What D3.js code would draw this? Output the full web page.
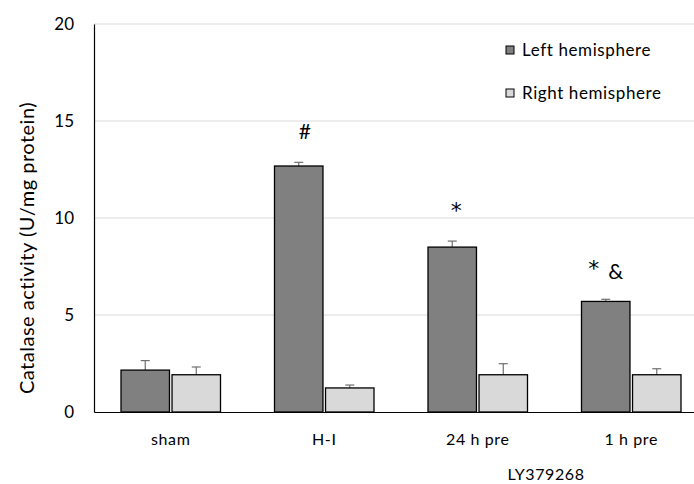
<!DOCTYPE html>
<html>
<head>
<meta charset="utf-8">
<script src="https://cdn.jsdelivr.net/npm/d3@7"></script>
<style>
  body { margin: 0; background: #fff; }
  text { font-family: Lato, "Open Sans", sans-serif; fill: #000; }
</style>
</head>
<body>
<div id="chart"></div>
<script>
// data
var groups = ["sham", "H-I", "24 h pre", "1 h pre"];
var series = ["Left hemisphere", "Right hemisphere"];
var leftVals = [2.16, 12.68, 8.5, 5.7];
var leftErr = [0.49, 0.19, 0.31, 0.11];
var rightVals = [1.92, 1.24, 1.92, 1.92];
var rightErr = [0.4, 0.15, 0.57, 0.31];
var marks = [[], ["#"], ["*"], ["*", "&"]];
var yTicks = [0, 5, 10, 15, 20];

var w = 694, h = 484;
var margin = { top: 24, right: -14, bottom: 72, left: 94 };
var width = w - margin.left - margin.right;
var height = h - margin.top - margin.bottom;

var svg = d3.select("#chart")
  .append("svg")
    .attr("width", w)
    .attr("height", h);

var g = svg.append("g")
  .attr("transform", "translate(" + margin.left + "," + margin.top + ")");

// Scales
var x = d3.scaleBand().domain(groups).range([0, width]).paddingInner(0).paddingOuter(0);
var y = d3.scaleLinear().domain([0, 20]).range([height, 0]);
var x1 = d3.scaleBand().domain(series).range([27, x.bandwidth() - 27]).paddingInner(0.05);

// gridlines
g.selectAll(".grid")
  .data(yTicks.slice(1))
  .enter()
  .append("line")
    .attr("x1", 0)
    .attr("x2", width)
    .attr("y1", function(d) { return y(d); })
    .attr("y2", function(d) { return y(d); })
    .attr("stroke", "#d9d9d9")
    .attr("stroke-width", 1.2);

// Y axis
var yAxis = g.append("g")
  .call(d3.axisLeft(y).tickValues(yTicks).tickSize(0).tickPadding(20));
yAxis.select(".domain").attr("stroke", "#000").attr("stroke-width", 1.2);
yAxis.selectAll("text").style("font-size", "17px");

// X axis
var xAxis = g.append("g")
  .attr("transform", "translate(0," + height + ")")
  .call(d3.axisBottom(x).tickSize(0).tickPadding(22));
xAxis.select(".domain").attr("stroke", "#000").attr("stroke-width", 1.2);
xAxis.selectAll("text").style("font-size", "16px").style("letter-spacing", "0.6px");

var rows = groups.map(function(d, i) {
  return [
    { group: d, s: series[0], v: leftVals[i], e: leftErr[i], fill: "#808080" },
    { group: d, s: series[1], v: rightVals[i], e: rightErr[i], fill: "#d9d9d9" }
  ];
});
var flat = [].concat.apply([], rows);

function cx(d) { return x(d.group) + x1(d.s) + x1.bandwidth() / 2; }

// error bars
var err = g.selectAll(".err")
  .data(flat)
  .enter()
  .append("g");
err.append("line")
  .attr("x1", cx)
  .attr("x2", cx)
  .attr("y1", function(d) { return y(d.v); })
  .attr("y2", function(d) { return y(d.v + d.e); })
  .attr("stroke", "#6f6f6f")
  .attr("stroke-width", 1.2);
err.append("line")
  .attr("x1", function(d) { return cx(d) - 4.5; })
  .attr("x2", function(d) { return cx(d) + 4.5; })
  .attr("y1", function(d) { return y(d.v + d.e); })
  .attr("y2", function(d) { return y(d.v + d.e); })
  .attr("stroke", "#6f6f6f")
  .attr("stroke-width", 1.2);

// Bars
g.selectAll(".bar")
  .data(flat)
  .enter()
  .append("rect")
    .attr("x", function(d) { return x(d.group) + x1(d.s); })
    .attr("y", function(d) { return y(d.v); })
    .attr("width", x1.bandwidth())
    .attr("height", function(d) { return height - y(d.v); })
    .attr("fill", function(d) { return d.fill; })
    .attr("stroke", "#000")
    .attr("stroke-width", 1.3);

// significance marks (offsets from the left bar top)
var markPos = [[], [[6, -35]], [[4, -42]], [[-12, -38], [10, -30]]];
groups.forEach(function(gr, i) {
  var bx = x(gr) + x1(series[0]) + x1.bandwidth() / 2;
  var by = y(leftVals[i]);
  marks[i].forEach(function(m, j) {
    var star = m == "*";
    g.append("text")
      .attr("x", bx + markPos[i][j][0])
      .attr("y", by + markPos[i][j][1] + (star ? 13 : 7.5))
      .attr("text-anchor", "middle")
      .style("font-family", star ? "DejaVu Sans" : null)
      .style("font-size", star ? "22px" : "21px")
      .text(m);
  });
});

// Legend
var legend = svg.selectAll(".legend")
  .data(series)
  .enter()
  .append("g")
    .attr("transform", function(d, i) { return "translate(506," + (50 + i * 43) + ")"; });
legend.append("rect")
  .attr("x", 0).attr("y", -4)
  .attr("width", 8).attr("height", 8)
  .attr("fill", function(d, i) { return i == 0 ? "#808080" : "#d9d9d9"; })
  .attr("stroke", "#000")
  .attr("stroke-width", 1);
legend.append("text")
  .attr("x", 16).attr("dy", "0.35em")
  .style("font-size", "17px")
  .style("letter-spacing", "0.6px")
  .text(function(d) { return d; });

// Y label
svg.append("text")
  .attr("transform", "translate(27," + (margin.top + height / 2 + 30) + ") rotate(-90)")
  .attr("text-anchor", "middle")
  .attr("dy", "0.35em")
  .style("font-size", "20px")
  .style("letter-spacing", "0.5px")
  .text("Catalase activity (U/mg protein)");

// sub label
svg.append("text")
  .attr("x", 546).attr("y", 474)
  .attr("text-anchor", "middle")
  .attr("dy", "0.35em")
  .style("font-size", "16px")
  .style("letter-spacing", "0.6px")
  .text("LY379268");
</script>
</body>
</html>
